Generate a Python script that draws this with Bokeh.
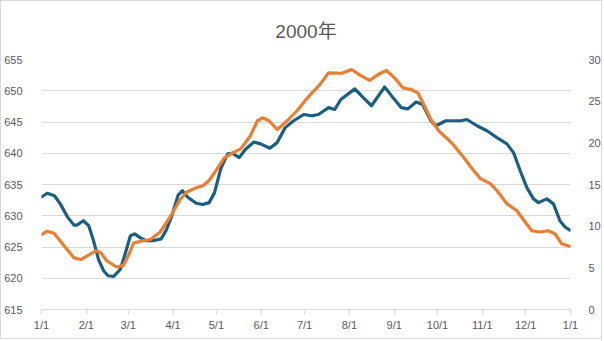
from bokeh.plotting import figure
from bokeh.models import Range1d, LinearAxis, FixedTicker
from bokeh.embed import file_html
from bokeh.resources import INLINE

# ---- data (day of year 2000) ----
month_days = [0, 31, 60, 91, 121, 152, 182, 213, 244, 274, 305, 335, 366]
month_labels = ["1/1", "2/1", "3/1", "4/1", "5/1", "6/1", "7/1", "8/1", "9/1", "10/1", "11/1", "12/1", "1/1"]

blue_days = [0, 4, 9, 13, 18, 22.5, 24.5, 29, 32.7, 36, 39.6, 43, 46, 49.9, 54.5, 58, 61.5, 64.5,
             68.2, 72, 77, 82.8, 86.3, 89.9, 94.5, 97.5, 101, 107, 111.6, 116, 119.7, 124, 128.8,
             132, 136.8, 141, 147, 151.6, 158, 163, 168.6, 174.5, 181.4, 187, 191.6, 198.6, 202.9,
             207.1, 216.8, 222.6, 228.3, 237.4, 243.2, 248.9, 253.5, 259.2, 263.7, 269.4, 272.9,
             279.8, 290, 294.3, 301.3, 308.2, 315.1, 322, 326.6, 331.2, 335.8, 340.4, 343.8, 349.6,
             354.2, 358.7, 362.2, 365.5]
blue_values = [633.0, 633.6, 633.2, 631.9, 629.8, 628.5, 628.5, 629.2, 628.4, 626.0, 622.9, 621.2,
               620.4, 620.3, 621.4, 624.0, 626.8, 627.1, 626.5, 626.0, 626.0, 626.3, 627.7, 629.8,
               633.3, 634.0, 633.0, 632.0, 631.8, 632.1, 633.7, 637.5, 639.9, 640.0, 639.3, 640.6,
               641.8, 641.5, 640.8, 641.7, 644.1, 645.2, 646.2, 646.0, 646.2, 647.3, 647.0, 648.6,
               650.3, 648.9, 647.6, 650.6, 648.9, 647.3, 647.1, 648.2, 647.8, 645.2, 644.4, 645.2,
               645.2, 645.4, 644.4, 643.6, 642.5, 641.5, 640.1, 637.2, 634.5, 632.7, 632.1, 632.7,
               631.9, 629.2, 628.2, 627.7]

orange_days = [0, 3.9, 8.7, 15.6, 22.4, 27.2, 31.4, 37.5, 41, 45.1, 51.9, 56.7, 60.2, 63.6, 68.4,
               75.3, 82.1, 89, 95.9, 100.6, 106.8, 111.6, 115.8, 120.8, 126.5, 132.2, 138, 144.5,
               149.4, 152.8, 157.4, 163.1, 170, 176.8, 182.3, 187.1, 191.7, 198.6, 207.7, 214.6,
               221.4, 227.1, 232.9, 238.6, 244.2, 250, 255.7, 260.3, 264.9, 269.4, 274.8, 284.3,
               292.3, 298, 303.7, 310.6, 315.2, 322, 328.9, 334.6, 339.2, 344.9, 350.6, 355.2,
               359.8, 365.5]
orange_values = [9.0, 9.4, 9.15, 7.65, 6.2, 6.0, 6.4, 7.05, 6.8, 5.85, 5.1, 5.3, 6.5, 7.95, 8.2,
                 8.4, 9.3, 11.1, 13.2, 14.1, 14.6, 14.85, 15.45, 16.7, 18.2, 18.8, 19.3, 20.85,
                 22.65, 23.0, 22.65, 21.6, 22.65, 23.85, 25.05, 26.0, 26.8, 28.4, 28.35, 28.8,
                 28.0, 27.5, 28.2, 28.7, 27.8, 26.6, 26.4, 26.0, 24.45, 22.8, 21.45, 19.9, 18.2,
                 16.9, 15.7, 15.1, 14.25, 12.7, 11.85, 10.5, 9.45, 9.3, 9.45, 9.1, 7.9, 7.6]

left_ticks = [615, 620, 625, 630, 635, 640, 645, 650, 655]
right_ticks = [0, 5, 10, 15, 20, 25, 30]

title_text = "2000年"

FONT = "Liberation Sans, Noto Sans CJK SC, sans-serif"
TXT = "#595959"
GRID = "#d9d9d9"

p = figure(width=602, height=339, output_backend="svg", toolbar_location=None,
           x_range=Range1d(0, 366), y_range=Range1d(615, 655),
           min_border_left=36, min_border_right=33, min_border_top=57, min_border_bottom=31,
           title=title_text)
p.styles = {"border": "1px solid #d9d9d9"}
p.outline_line_color = None
p.background_fill_color = "white"
p.border_fill_color = "white"

p.title.align = "center"
p.title.text_font = FONT
p.title.text_font_size = "19px"
p.title.text_font_style = "normal"
p.title.text_color = TXT
p.title.standoff = 35

p.extra_y_ranges = {"r": Range1d(0, 30)}

# left axis
ya = p.yaxis[0]
ya.ticker = FixedTicker(ticks=left_ticks)
ya.axis_line_color = None
ya.major_tick_line_color = None
ya.minor_tick_line_color = None
ya.major_label_standoff = 13
ya.major_label_text_font = FONT
ya.major_label_text_font_size = "11px"
ya.major_label_text_color = TXT

# right axis
ra = LinearAxis(y_range_name="r", ticker=FixedTicker(ticks=right_ticks))
ra.axis_line_color = None
ra.major_tick_line_color = None
ra.minor_tick_line_color = None
ra.major_label_standoff = 12
ra.major_label_text_font = FONT
ra.major_label_text_font_size = "11px"
ra.major_label_text_color = TXT
p.add_layout(ra, "right")

# bottom axis
xa = p.xaxis[0]
xa.ticker = FixedTicker(ticks=month_days)
xa.major_label_overrides = {d: lab for d, lab in zip(month_days, month_labels)}
xa.axis_line_color = GRID
xa.major_tick_line_color = GRID
xa.major_tick_out = 5
xa.major_tick_in = 0
xa.minor_tick_line_color = None
xa.major_label_standoff = 4
xa.major_label_text_font = FONT
xa.major_label_text_font_size = "11px"
xa.major_label_text_color = TXT

p.xgrid.grid_line_color = None
p.ygrid.ticker = FixedTicker(ticks=left_ticks)
p.ygrid.grid_line_color = GRID

p.line(blue_days, blue_values, line_color="#1a5f82", line_width=3.2,
       line_join="round", line_cap="round")
p.line(orange_days, orange_values, y_range_name="r", line_color="#ed7d31", line_width=3.2,
       line_join="round", line_cap="round")

open("out.html", "w").write(file_html(p, INLINE))
